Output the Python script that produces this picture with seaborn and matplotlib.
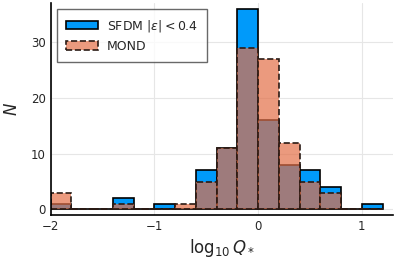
import numpy as np
import pandas as pd
import matplotlib
matplotlib.use("Agg")
import matplotlib.pyplot as plt
import seaborn as sns

# === data: histogram counts per bin (bin width 0.2) ===
bin_edges = [-2.0, -1.8, -1.6, -1.4, -1.2, -1.0, -0.8, -0.6, -0.4, -0.2,
             0.0, 0.2, 0.4, 0.6, 0.8, 1.0, 1.2]
sfdm_counts = [1, 0, 0, 2, 0, 1, 0, 7, 11, 36, 16, 8, 7, 4, 0, 1]
mond_counts = [3, 0, 0, 1, 0, 0, 1, 5, 11, 29, 27, 12, 5, 3, 0, 0]
x_ticks = [-2, -1, 0, 1]
y_ticks = [0, 10, 20, 30]

centers = [(a + b) / 2 for a, b in zip(bin_edges[:-1], bin_edges[1:])]
df = pd.DataFrame({"logQ": centers, "sfdm": sfdm_counts, "mond": mond_counts})

sns.set_style("white")
plt.rcParams['font.family'] = ['DejaVu Sans']
plt.rcParams['mathtext.fontset'] = 'dejavusans'

fig, ax = plt.subplots(figsize=(3.99, 2.66), dpi=100)
fig.subplots_adjust(left=0.127, right=0.985, top=0.99, bottom=0.19)

sns.histplot(data=df, x="logQ", weights="sfdm", bins=bin_edges, ax=ax,
             color="#009AFA", alpha=1.0, edgecolor="black", linewidth=1.2,
             label=r"SFDM $|\varepsilon| < 0.4$")
sns.histplot(data=df, x="logQ", weights="mond", bins=bin_edges, ax=ax,
             color="#E36F47", alpha=0.7, edgecolor="#2a1a14", linewidth=1.2,
             linestyle="--", label="MOND")

ax.set_xlim(-2.0, 1.3)
ax.set_ylim(-1.08, 37.08)
ax.set_xticks(x_ticks)
ax.set_yticks(y_ticks)
ax.set_xticklabels(["\u22122", "\u22121", "0", "1"])
ax.grid(True, color="#e6e6e6", linewidth=0.8)
ax.set_axisbelow(True)
for s in ["top", "right"]:
    ax.spines[s].set_visible(False)
for s in ["left", "bottom"]:
    ax.spines[s].set_linewidth(1.2)
    ax.spines[s].set_color("black")
ax.tick_params(direction="in", length=3, labelsize=8.5, width=0.8)

ax.set_xlabel(r"$\log_{10} Q_*$", fontsize=12, labelpad=3)
ax.set_ylabel(r"$N$", fontsize=12, labelpad=7)

leg = ax.legend(loc="upper left", fontsize=9, frameon=True, fancybox=False,
                edgecolor="#444444", borderpad=0.7, handlelength=2.6,
                handletextpad=0.7, labelspacing=0.5, borderaxespad=0,
                bbox_to_anchor=(0.018, 0.97))
leg.get_frame().set_linewidth(1.0)

plt.savefig("out.png", dpi=100)
plt.close()
